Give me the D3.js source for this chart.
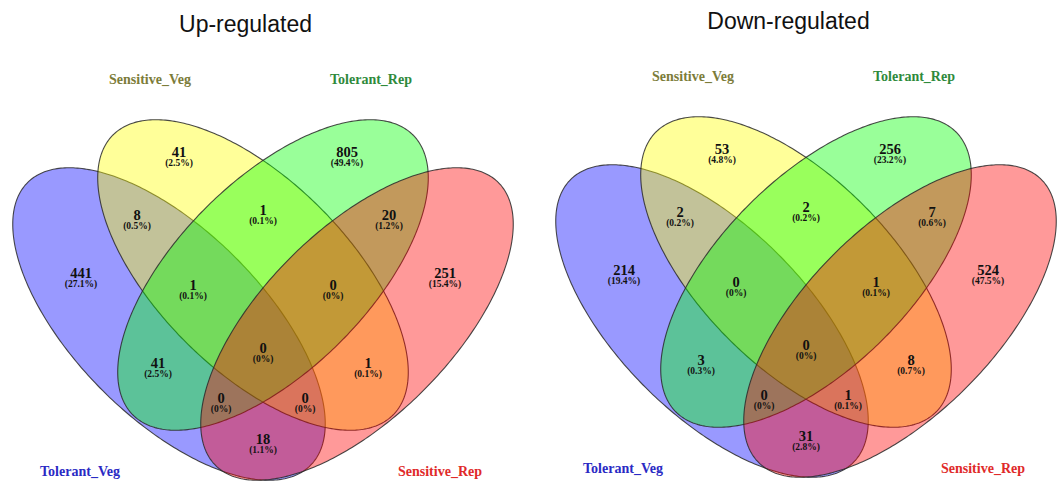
<!DOCTYPE html>
<html>
<head>
<meta charset="utf-8">
<script src="https://cdn.jsdelivr.net/npm/d3@7"></script>
<style>
  body { margin: 0; background: #fff; }
  svg { display: block; }
</style>
</head>
<body>
<svg id="chart" width="1060" height="483"></svg>
<script>
// Four sets, in drawing order (each later ellipse is painted over the earlier ones)
const setNames = ["Tolerant_Veg", "Sensitive_Veg", "Tolerant_Rep", "Sensitive_Rep"];
const setFills = ["#0000ff", "#ffff00", "#00ff00", "#ff0000"];
const setLabelColors = ["#2a2ac4", "#7c7c3a", "#2f8a3c", "#e02a2a"];

// Regions as membership bit strings, same order as setNames
const regionKeys = ["0100", "0010", "0110", "1100", "0011", "1000", "0001",
                    "1110", "0111", "1111", "1010", "0101", "1011", "1101", "1001"];
const upCounts   = [41, 805, 1, 8, 20, 441, 251, 1, 0, 0, 41, 1, 0, 0, 18];
const downCounts = [53, 256, 2, 2, 7, 214, 524, 0, 1, 0, 3, 8, 0, 1, 31];
const panelTitles = ["Up-regulated", "Down-regulated"];

// Diagram layout in units (x relative to the symmetry axis, y from the top)
const ellipseLayout = [
  { cx: -0.188, cy: 0.648, a: 0.400, b: 0.188, angle: 45 },
  { cx: -0.020, cy: 0.550, a: 0.396, b: 0.190, angle: 45 },
  { cx:  0.020, cy: 0.550, a: 0.396, b: 0.190, angle: -45 },
  { cx:  0.188, cy: 0.648, a: 0.400, b: 0.188, angle: -45 }
];
const regionLabelPos = {
  "0100": [-0.168, 0.304], "0010": [0.168, 0.304], "0110": [0, 0.420],
  "1100": [-0.252, 0.430], "0011": [0.252, 0.430],
  "1000": [-0.364, 0.546], "0001": [0.364, 0.546],
  "1110": [-0.140, 0.570], "0111": [0.140, 0.570],
  "1111": [0, 0.696],
  "1010": [-0.210, 0.726], "0101": [0.210, 0.726],
  "1011": [-0.084, 0.796], "1101": [0.084, 0.796],
  "1001": [0, 0.878]
};
const setLabelPos = [[-0.366, 0.952], [-0.226, 0.168], [0.216, 0.168], [0.354, 0.952]];

const panels = [
  { title: panelTitles[0], counts: upCounts,   axisX: 263, yOff: 0 },
  { title: panelTitles[1], counts: downCounts, axisX: 806, yOff: -3 }
];

const svg = d3.select("#chart");

function ellipsePoints(e) {
  const th = e.angle * Math.PI / 180;
  return d3.range(0, 360, 1).map(deg => {
    const t = deg * Math.PI / 180;
    const px = e.a * Math.cos(t), py = e.b * Math.sin(t);
    return [e.cx + px * Math.cos(th) - py * Math.sin(th),
            e.cy + px * Math.sin(th) + py * Math.cos(th)];
  });
}

function pctText(v, total) {
  if (v === 0) return "(0%)";
  return "(" + (v / total * 100).toFixed(1) + "%)";
}

panels.forEach(p => {
  const x = d3.scaleLinear().domain([-0.5, 0.5]).range([p.axisX - 250, p.axisX + 250]);
  const y = d3.scaleLinear().domain([0, 1]).range([p.yOff, p.yOff + 500]);
  const line = d3.line().x(d => x(d[0])).y(d => y(d[1])).curve(d3.curveLinearClosed);
  const g = svg.append("g");

  g.append("text")
    .attr("x", x(-0.035)).attr("y", y(0.064))
    .attr("text-anchor", "middle")
    .attr("font-family", "Liberation Sans, Arial, sans-serif")
    .attr("font-size", 23)
    .attr("fill", "#111")
    .text(p.title);

  g.selectAll("path.set")
    .data(ellipseLayout)
    .join("path")
    .attr("class", "set")
    .attr("d", e => line(ellipsePoints(e)))
    .attr("fill", (e, i) => setFills[i])
    .attr("fill-opacity", 0.4)
    .attr("stroke", "#2a2a2a")
    .attr("stroke-opacity", 0.85)
    .attr("stroke-width", 1.1);

  const total = d3.sum(p.counts);
  const regions = regionKeys.map((k, i) => ({ key: k, value: p.counts[i] }));
  const lab = g.selectAll("g.region").data(regions).join("g").attr("class", "region")
    .attr("transform", d => `translate(${x(regionLabelPos[d.key][0])},${y(regionLabelPos[d.key][1])})`);
  lab.append("text")
    .attr("y", 5)
    .attr("text-anchor", "middle")
    .attr("font-family", "Liberation Serif, Times New Roman, serif")
    .attr("font-weight", "bold")
    .attr("font-size", 14.5)
    .attr("fill", "#111")
    .text(d => d.value);
  lab.append("text")
    .attr("y", 14)
    .attr("text-anchor", "middle")
    .attr("font-family", "Liberation Serif, Times New Roman, serif")
    .attr("font-weight", "bold")
    .attr("font-size", 9.5)
    .attr("fill", "#111")
    .text(d => pctText(d.value, total));

  g.selectAll("text.setname")
    .data(setNames)
    .join("text")
    .attr("class", "setname")
    .attr("x", (d, i) => x(setLabelPos[i][0]))
    .attr("y", (d, i) => y(setLabelPos[i][1]))
    .attr("text-anchor", "middle")
    .attr("font-family", "Liberation Serif, Times New Roman, serif")
    .attr("font-weight", "bold")
    .attr("font-size", 14)
    .attr("fill", (d, i) => setLabelColors[i])
    .text(d => d);
});
</script>
</body>
</html>
